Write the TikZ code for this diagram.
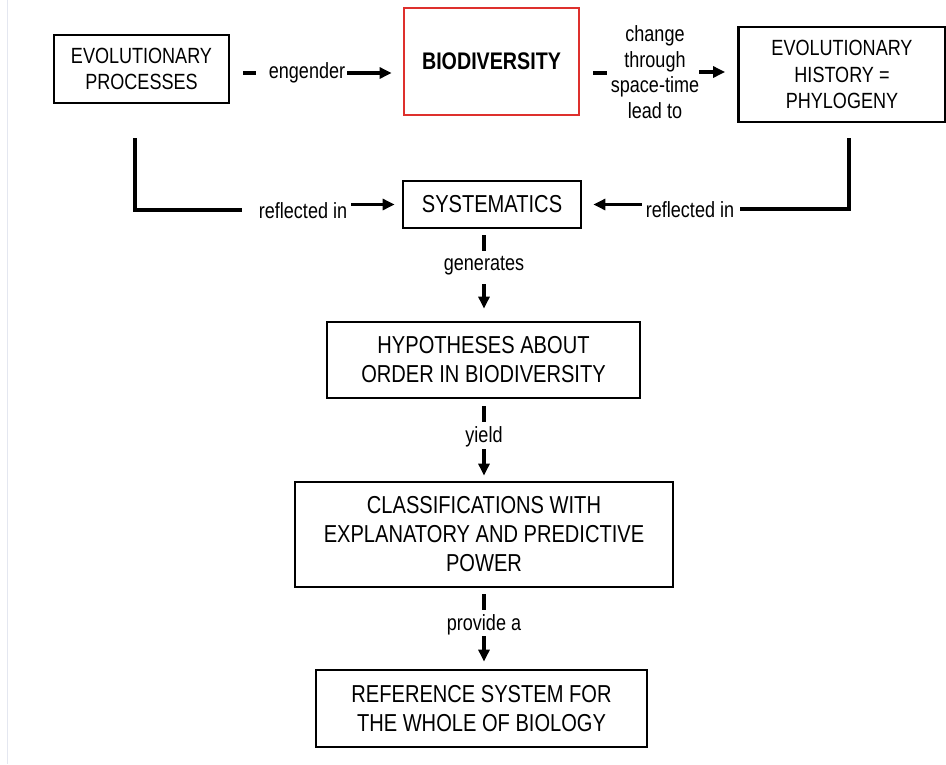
\documentclass[tikz,border=0pt]{standalone}
\usepackage{fontspec}
\setmainfont{Liberation Sans}[FakeStretch=0.82]
\usetikzlibrary{arrows.meta}
\tikzset{
  box/.style={draw=black, line width=2.8pt, inner sep=0pt, align=center, font=\fontsize{24.5}{29}\selectfont},
  topbox/.style={box, font=\fontsize{22}{26.5}\selectfont},
  lbl/.style={inner sep=0pt, align=center, font=\fontsize{22}{25.7}\selectfont},
  conn/.style={line width=3.1pt},
  arr/.style={line width=3.1pt, -{Triangle[length=12pt,width=11pt]}},
}
\begin{document}
\begin{tikzpicture}[x=1pt,y=-1pt]
\useasboundingbox (0,0) rectangle (946,764);
\draw[line width=1pt, color={rgb,255:red,228;green,231;blue,240}] (7,0) -- (7,764);
% boxes
\node[topbox, minimum width=175pt, minimum height=68pt] (ep) at (141.5,69) {EVOLUTIONARY\\PROCESSES};
\node[box, draw={rgb,255:red,222;green,48;blue,45}, minimum width=175pt, minimum height=107pt, font=\fontsize{24}{28}\selectfont\bfseries] (bio) at (491.5,61.5) {BIODIVERSITY};
\node[topbox, minimum width=207pt, minimum height=95pt] (phy) at (842,74.5) {EVOLUTIONARY\\HISTORY =\\PHYLOGENY};
\node[box, minimum width=178pt, minimum height=47pt] (sys) at (492,204.5) {SYSTEMATICS};
\node[box, minimum width=313pt, minimum height=76pt] (hyp) at (483.5,360) {HYPOTHESES ABOUT\\ORDER IN BIODIVERSITY};
\node[box, minimum width=378pt, minimum height=105pt] (cls) at (484,534.5) {CLASSIFICATIONS WITH\\EXPLANATORY AND PREDICTIVE\\POWER};
\node[box, minimum width=331pt, minimum height=77pt] (ref) at (481.5,708.5) {REFERENCE SYSTEM FOR\\THE WHOLE OF BIOLOGY};
% labels
\node[lbl] (eng) at (307,73) {engender};
\node[lbl] (chg) at (655,72) {change\\through\\space-time\\lead to};
\node[lbl] (rfl) at (303,211) {reflected in};
\node[lbl] (rfr) at (690,210) {reflected in};
\node[lbl] (gen) at (484,266) {generates};
\node[lbl] (yld) at (484,437) {yield};
\node[lbl] (prv) at (484,625) {provide a};
% coordinates
\coordinate (el) at (135,138);
\coordinate (elc) at (135,210);
\coordinate (ele) at (242,210);
\coordinate (er) at (849,138);
\coordinate (erc) at (849,209);
\coordinate (ere) at (740,209);
\coordinate (x) at (484,0);
% top row
\draw[conn] (243,73) coordinate (d1) -- (256,73) coordinate (d1e);
\draw[arr, shorten <=2pt, shorten >=11pt] (eng.east) -- (bio.west |- eng.east);
\draw[conn] (593,73) coordinate (d2) -- (607,73) coordinate (d2e);
\draw[arr, shorten >=12pt] (chg.east |- 0,72) -- (phy.west |- 0,72);
% reflected
\draw[conn] (el) -- (elc) -- (ele);
\draw[arr, shorten <=4pt, shorten >=7pt] (rfl.east |- sys.west) -- (sys.west);
\draw[conn] (er) -- (erc) -- (ere);
\draw[arr, shorten <=4pt, shorten >=11pt] (rfr.west |- sys.east) -- (sys.east);
% vertical chain
\draw[conn] (x |- 0,235) -- (x |- 0,251);
\draw[arr, shorten >=12pt] (x |- 0,284) -- (x |- hyp.north);
\draw[conn] (x |- 0,406) -- (x |- 0,422);
\draw[arr, shorten >=5pt] (x |- 0,449) -- (x |- cls.north);
\draw[conn] (x |- 0,594) -- (x |- 0,610);
\draw[arr, shorten >=7pt] (x |- 0,636) -- (x |- ref.north);
\end{tikzpicture}
\end{document}
